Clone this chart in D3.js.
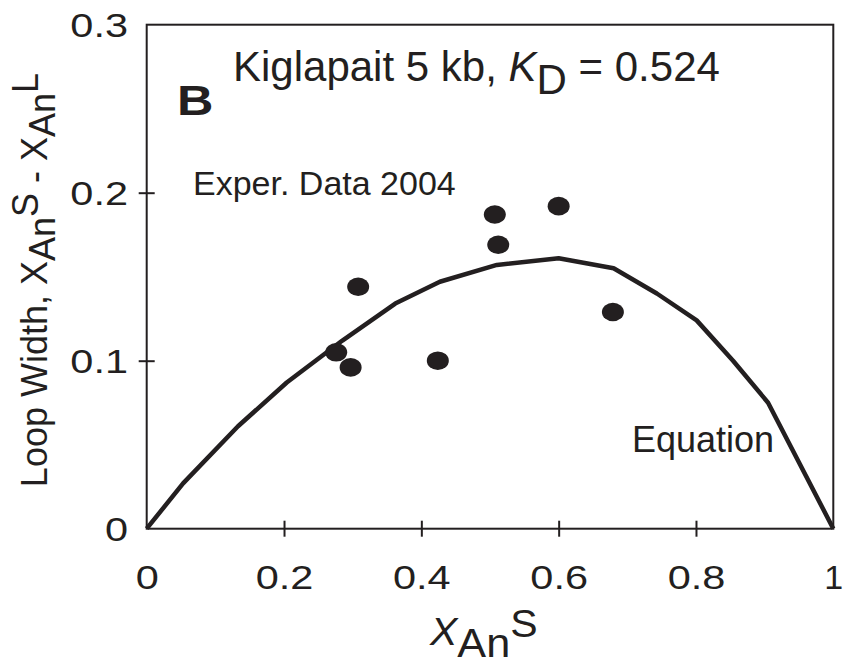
<!DOCTYPE html>
<html>
<head>
<meta charset="utf-8">
<script src="https://cdn.jsdelivr.net/npm/d3@7"></script>
<style>
  html, body { margin: 0; padding: 0; background: #fff; }
  svg { display: block; font-family: "Liberation Sans", Arial, Helvetica, sans-serif; }
</style>
</head>
<body>
<svg id="chart" width="843" height="665"></svg>
<script>
// ---- data ----
const dataX = [0.276, 0.297, 0.308, 0.424, 0.507, 0.512, 0.600, 0.679];
const dataY = [0.105, 0.096, 0.144, 0.100, 0.187, 0.169, 0.192, 0.129];

const eqX = [0, 0.053, 0.133, 0.204, 0.285, 0.362, 0.427, 0.510, 0.600, 0.680, 0.743, 0.801, 0.854, 0.905, 1.0];
const eqY = [0, 0.027, 0.061, 0.087, 0.112, 0.134, 0.147, 0.157, 0.161, 0.155, 0.140, 0.124, 0.100, 0.075, 0.0];

const xTicks = [0, 0.2, 0.4, 0.6, 0.8, 1];
const xTickLabels = ["0", "0.2", "0.4", "0.6", "0.8", "1"];
const yTicks = [0, 0.1, 0.2, 0.3];
const yTickLabels = ["0", "0.1", "0.2", "0.3"];

const ink = "#231f20";
const svg = d3.select("#chart");

const x = d3.scaleLinear().domain([0, 1]).range([146.7, 833.3]);
const y = d3.scaleLinear().domain([0, 0.3]).range([528.7, 24.7]);

// frame
svg.append("rect")
  .attr("x", x(0)).attr("y", y(0.3))
  .attr("width", x(1) - x(0)).attr("height", y(0) - y(0.3))
  .attr("fill", "none").attr("stroke", ink).attr("stroke-width", 2);

// x axis (outer ticks + labels)
const xAxisG = svg.append("g")
  .attr("transform", `translate(0,${y(0)})`)
  .call(d3.axisBottom(x).tickValues(xTicks).tickSize(8)
        .tickFormat((d, i) => xTickLabels[i]));
// x axis inner ticks
const xAxisIn = svg.append("g")
  .attr("transform", `translate(0,${y(0)})`)
  .call(d3.axisTop(x).tickValues(xTicks).tickSize(8).tickFormat(""));

// y axis (outer ticks + labels)
const yAxisG = svg.append("g")
  .attr("transform", `translate(${x(0)},0)`)
  .call(d3.axisLeft(y).tickValues(yTicks).tickSize(8)
        .tickFormat((d, i) => yTickLabels[i]));
const yAxisIn = svg.append("g")
  .attr("transform", `translate(${x(0)},0)`)
  .call(d3.axisRight(y).tickValues(yTicks).tickSize(8).tickFormat(""));

[xAxisG, xAxisIn, yAxisG, yAxisIn].forEach(g => {
  g.select(".domain").remove();
  g.selectAll(".tick line").attr("stroke", ink).attr("stroke-width", 2);
});
// only interior ticks are drawn in the reference
xAxisG.selectAll(".tick").filter(d => d === 0 || d === 1).select("line").remove();
xAxisIn.selectAll(".tick").filter(d => d === 0 || d === 1).select("line").remove();
yAxisG.selectAll(".tick").filter(d => d === 0 || d === 0.3).select("line").remove();
yAxisIn.selectAll(".tick").filter(d => d === 0 || d === 0.3).select("line").remove();

xAxisG.selectAll(".tick text")
  .attr("fill", ink).attr("font-size", 34)
  .attr("font-family", "Liberation Sans, Arial, sans-serif")
  .attr("y", 60.3).attr("dy", null)
  .attr("transform", d => d === 1 ? null : "scale(1.22,1)");
yAxisG.selectAll(".tick text")
  .attr("fill", ink).attr("font-size", 34)
  .attr("font-family", "Liberation Sans, Arial, sans-serif")
  .attr("x", -18.7 / 1.22).attr("y", 12).attr("dy", null)
  .attr("transform", "scale(1.22,1)");

// equation curve
const eqData = eqX.map((v, i) => [v, eqY[i]]);
svg.append("path")
  .datum(eqData)
  .attr("d", d3.line().x(d => x(d[0])).y(d => y(d[1])))
  .attr("fill", "none").attr("stroke", ink).attr("stroke-width", 4.5)
  .attr("stroke-linejoin", "round");

// data points
const pts = dataX.map((v, i) => [v, dataY[i]]);
svg.append("g").selectAll("ellipse").data(pts).join("ellipse")
  .attr("cx", d => x(d[0])).attr("cy", d => y(d[1]))
  .attr("rx", 11).attr("ry", 9.3).attr("fill", ink);

// annotations
svg.append("text")
  .attr("transform", "translate(177,115) scale(1.2,1)")
  .attr("font-size", 42).attr("font-weight", "bold").attr("fill", ink)
  .text("B");

const title = svg.append("text")
  .attr("x", 233).attr("y", 81).attr("font-size", 42).attr("fill", ink);
title.append("tspan").text("Kiglapait 5 kb, ");
title.append("tspan").attr("font-style", "italic").text("K");
title.append("tspan").attr("dy", 13).text("D");
title.append("tspan").attr("dy", -13).text(" = 0.524");

svg.append("text")
  .attr("x", 193).attr("y", 195).attr("font-size", 34).attr("fill", ink)
  .text("Exper. Data 2004");

svg.append("text")
  .attr("x", 632).attr("y", 451.7).attr("font-size", 36).attr("fill", ink)
  .text("Equation");

// x axis title
const xt = svg.append("text")
  .attr("transform", "translate(430,645) scale(1.08,1)")
  .attr("fill", ink).attr("font-size", 38);
xt.append("tspan").attr("font-style", "italic").text("X");
xt.append("tspan").attr("dy", 12).attr("font-size", 40).text("An");
xt.append("tspan").attr("dy", -20).text("S");

// y axis title
const yt = svg.append("text")
  .attr("transform", "translate(47,280) rotate(-90)")
  .attr("text-anchor", "middle")
  .attr("fill", ink).attr("font-size", 36);
yt.append("tspan").text("Loop Width, X");
yt.append("tspan").attr("dy", 8).text("An");
yt.append("tspan").attr("dy", -17).text("S");
yt.append("tspan").attr("dy", 9).text(" - X");
yt.append("tspan").attr("dy", 8).text("An");
yt.append("tspan").attr("dy", -17).text("L");
</script>
</body>
</html>
